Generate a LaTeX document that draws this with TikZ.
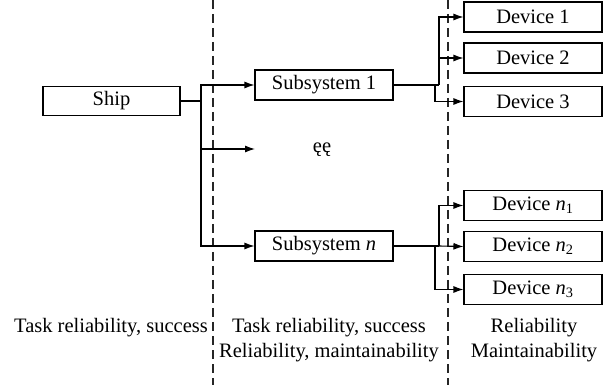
\documentclass[tikz,border=0pt]{standalone}
\usepackage{fontspec}
\setmainfont{Liberation Serif}
\usetikzlibrary{arrows.meta}

\tikzset{
  box/.style={draw, line width=1.1pt, minimum width=138pt, minimum height=30pt, inner sep=0pt},
  arr/.style={-{Latex[length=10pt,width=7pt]}, line width=1.1pt},
  link/.style={line width=1.1pt},
  sepline/.style={line width=1.1pt, dash pattern=on 9pt off 5pt, black!85}
}

\begin{document}
\begin{tikzpicture}[x=1pt, y=-1pt, font=\fontsize{20.5}{25}\selectfont]
  \useasboundingbox (0,0) rectangle (614,385);

  \draw[sepline] (213,0) -- (213,385);
  \draw[sepline] (448,0) -- (448,385);

  \node[box, minimum width=137pt, minimum height=29pt] (ship) at (111.5,101) {Ship};
  \node[box] (sub1) at (324,85) {Subsystem 1};
  \node[box] (subn) at (324,246) {Subsystem {\itshape n}};
  \node (dots) at (322,150) {ęę};

  \node[box] (dev1) at (533,17) {Device 1};
  \node[box] (dev2) at (533,58) {Device 2};
  \node[box] (dev3) at (533,101.5) {Device 3};
  \node[box] (devn1) at (533,205.5) {Device {\itshape n}\textsubscript{1}};
  \node[box] (devn2) at (533,246.5) {Device {\itshape n}\textsubscript{2}};
  \node[box] (devn3) at (533,289.5) {Device {\itshape n}\textsubscript{3}};

  \coordinate (split) at (201,101);
  \coordinate (mid) at (255,149);
  \coordinate (forkA) at (439,85);
  \coordinate (forkB) at (435,85);
  \coordinate (forkC) at (439,246);
  \coordinate (forkD) at (435,246);

  \draw[link] (ship.east) -- (split);
  \draw[arr] (split) |- (sub1.west);
  \draw[arr] (split) |- (mid);
  \draw[arr] (split) |- (subn.west);

  \draw[link] (sub1.east) -- (forkA);
  \draw[arr] (forkA) |- (dev1.west);
  \draw[arr] (forkA) |- (dev2.west);
  \draw[arr] (forkB) |- (dev3.west);

  \draw[link] (subn.east) -- (forkC);
  \draw[arr] (forkC) |- (devn1.west);
  \draw[arr] (forkC) -- (devn2.west);
  \draw[arr] (forkD) |- (devn3.west);

  \node (lvlShip) at (111,328) {Task reliability, success};
  \node[align=center] (lvlSub) at (329,340) {Task reliability, success\\Reliability, maintainability};
  \node[align=center] (lvlDev) at (534,340) {Reliability\\Maintainability};
\end{tikzpicture}
\end{document}
